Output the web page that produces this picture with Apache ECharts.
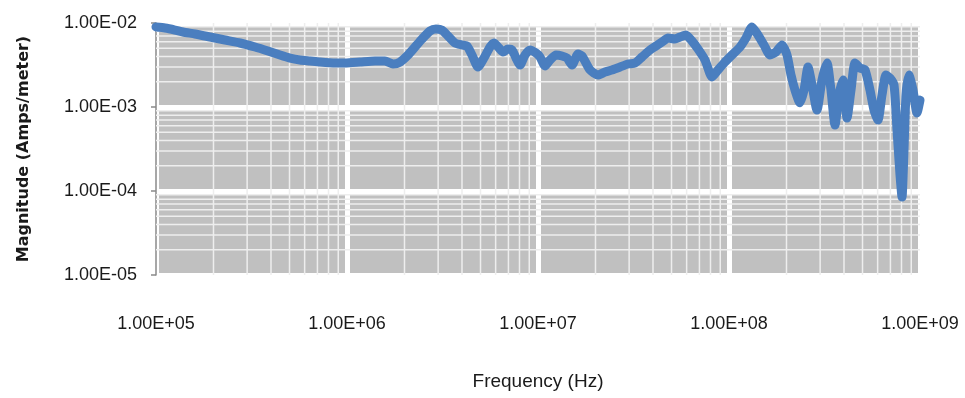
<!DOCTYPE html>
<html>
<head>
<meta charset="utf-8">
<script src="https://cdn.jsdelivr.net/npm/echarts@6/dist/echarts.min.js"></script>
<style>
html,body{margin:0;padding:0;background:#fff;}
#chart{width:965px;height:398px;}
</style>
</head>
<body>
<div id="chart"></div>
<script>
const xTickLabels = ['1.00E+05', '1.00E+06', '1.00E+07', '1.00E+08', '1.00E+09'];
const yTickLabels = ['1.00E-05', '1.00E-04', '1.00E-03', '1.00E-02'];

const freqHz = [
  1.000e5, 1.115e5, 1.257e5, 1.385e5, 1.600e5, 1.918e5, 2.297e5, 2.754e5, 3.299e5, 3.858e5,
  4.459e5, 5.030e5, 5.674e5, 6.401e5, 7.222e5, 8.654e5, 9.761e5, 1.170e6, 1.402e6, 1.581e6,
  1.741e6, 1.895e6, 2.086e6, 2.270e6, 2.470e6, 2.720e6, 2.924e6, 3.144e6, 3.380e6, 3.676e6,
  4.000e6, 4.249e6, 4.513e6, 4.851e6, 5.215e6, 5.607e6, 5.884e6, 6.249e6, 6.559e6, 6.966e6,
  7.310e6, 7.671e6, 8.050e6, 8.551e6, 9.082e6, 9.761e6, 1.024e7, 1.088e7, 1.156e7, 1.242e7,
  1.336e7, 1.419e7, 1.507e7, 1.620e7, 1.700e7, 1.872e7, 2.061e7, 2.243e7, 2.440e7, 2.687e7,
  2.959e7, 3.220e7, 3.504e7, 3.858e7, 4.148e7, 4.459e7, 4.793e7, 5.215e7, 5.540e7, 5.955e7,
  6.401e7, 6.882e7, 7.487e7, 8.147e7, 8.758e7, 9.530e7, 1.037e8, 1.142e8, 1.227e8, 1.319e8,
  1.418e8, 1.525e8, 1.639e8, 1.762e8, 1.895e8, 2.012e8, 2.112e8, 2.216e8, 2.353e8, 2.470e8,
  2.592e8, 2.720e8, 2.888e8, 3.069e8, 3.259e8, 3.420e8, 3.589e8, 3.766e8, 3.953e8, 4.148e8,
  4.353e8, 4.568e8, 4.851e8, 5.152e8, 5.472e8, 5.743e8, 6.026e8, 6.324e8, 6.637e8, 6.966e8,
  7.310e8, 7.579e8, 7.858e8, 8.050e8, 8.246e8, 8.447e8, 8.758e8, 9.192e8, 9.645e8, 1.000e9
];

const magnitude = [
  8.96e-3, 8.72e-3, 8.25e-3, 7.81e-3, 7.40e-3, 6.81e-3, 6.27e-3, 5.78e-3, 5.18e-3, 4.64e-3,
  4.16e-3, 3.83e-3, 3.63e-3, 3.53e-3, 3.43e-3, 3.34e-3, 3.34e-3, 3.43e-3, 3.53e-3, 3.53e-3,
  3.25e-3, 3.43e-3, 4.16e-3, 5.18e-3, 6.45e-3, 8.03e-3, 8.48e-3, 8.25e-3, 7.00e-3, 5.78e-3,
  5.47e-3, 5.32e-3, 4.16e-3, 2.99e-3, 3.83e-3, 5.18e-3, 5.78e-3, 5.04e-3, 4.52e-3, 4.90e-3,
  4.77e-3, 3.83e-3, 3.16e-3, 4.16e-3, 4.77e-3, 4.39e-3, 3.94e-3, 3.08e-3, 3.63e-3, 4.16e-3,
  4.05e-3, 3.83e-3, 3.16e-3, 4.28e-3, 4.05e-3, 2.76e-3, 2.40e-3, 2.61e-3, 2.76e-3, 2.99e-3,
  3.25e-3, 3.34e-3, 3.94e-3, 4.77e-3, 5.32e-3, 5.94e-3, 6.63e-3, 6.45e-3, 6.81e-3, 7.20e-3,
  6.10e-3, 4.90e-3, 3.63e-3, 2.28e-3, 2.76e-3, 3.43e-3, 4.16e-3, 5.18e-3, 6.63e-3, 8.96e-3,
  7.20e-3, 5.47e-3, 4.16e-3, 4.52e-3, 5.47e-3, 4.16e-3, 2.40e-3, 1.59e-3, 1.12e-3, 1.59e-3,
  2.99e-3, 1.83e-3, 9.21e-4, 2.10e-3, 3.34e-3, 1.59e-3, 6.10e-4, 1.39e-3, 2.10e-3, 7.40e-4,
  1.59e-3, 3.34e-3, 2.91e-3, 2.76e-3, 1.59e-3, 9.21e-4, 7.00e-4, 1.39e-3, 2.40e-3, 2.21e-3,
  1.83e-3, 5.32e-4, 1.55e-4, 8.48e-5, 3.08e-4, 1.39e-3, 2.40e-3, 1.59e-3, 8.48e-4, 1.21e-3
];

const seriesData = freqHz.map((f, i) => [f, magnitude[i]]);

// minor log grid positions (2..9 within each decade)
const minorX = [];
for (let k = 5; k < 9; k++) for (let d = 2; d <= 9; d++) minorX.push(d * Math.pow(10, k));
const minorY = [];
for (let k = -5; k < -2; k++) for (let d = 2; d <= 9; d++) minorY.push(d * Math.pow(10, k));

const X_MIN = 1e5, X_MAX = 1e9, Y_MIN = 1e-5, Y_MAX = 1e-2;
const gridData = minorX.map(v => ['x', v]).concat(minorY.map(v => ['y', v]));

const tickFont = "'Liberation Sans', Arial, sans-serif";

const chart = echarts.init(document.getElementById('chart'), null, { renderer: 'canvas' });
chart.setOption({
  animation: false,
  backgroundColor: '#ffffff',
  grid: {
    left: 156, right: 45, top: 23, bottom: 123,
    show: true, backgroundColor: '#c0c0c0', borderWidth: 0
  },
  xAxis: {
    type: 'log', logBase: 10, min: X_MIN, max: X_MAX,
    name: 'Frequency (Hz)', nameLocation: 'middle', nameGap: 97,
    nameTextStyle: { fontFamily: tickFont, fontSize: 19, color: '#1a1a1a', verticalAlign: 'top' },
    axisLine: { show: false },
    axisTick: { show: false },
    axisLabel: {
      margin: 40, fontFamily: tickFont, fontSize: 18, color: '#1a1a1a', verticalAlign: 'top',
      formatter: v => xTickLabels[Math.round(Math.log10(v)) - 5]
    },
    splitLine: { show: true, lineStyle: { color: '#ffffff', width: 5 } }
  },
  yAxis: {
    type: 'log', logBase: 10, min: Y_MIN, max: Y_MAX,
    name: 'Magnitude (Amps/meter)', nameLocation: 'middle', nameGap: 124,
    nameTextStyle: { fontFamily: "'DejaVu Sans', Verdana, sans-serif", fontWeight: 'bold', fontSize: 16, color: '#1a1a1a' },
    axisLine: { show: true, lineStyle: { color: '#8a8a8a', width: 1.5 } },
    axisTick: { show: true, length: 5, lineStyle: { color: '#8a8a8a', width: 1.5 } },
    axisLabel: {
      margin: 19, fontFamily: tickFont, fontSize: 18, color: '#1a1a1a',
      formatter: v => yTickLabels[Math.round(Math.log10(v)) + 5]
    },
    splitLine: { show: true, lineStyle: { color: '#ffffff', width: 5 } }
  },
  series: [
    {
      name: 'minorGrid', type: 'custom', z: 1, silent: true,
      data: gridData,
      encode: { x: -1, y: -1 },
      renderItem: function (params, api) {
        const dir = gridData[params.dataIndex][0];
        const v = gridData[params.dataIndex][1];
        let p1, p2;
        if (dir === 'x') { p1 = api.coord([v, Y_MIN]); p2 = api.coord([v, Y_MAX]); }
        else { p1 = api.coord([X_MIN, v]); p2 = api.coord([X_MAX, v]); }
        return {
          type: 'line',
          shape: { x1: p1[0], y1: p1[1], x2: p2[0], y2: p2[1] },
          style: { stroke: '#eeeeee', lineWidth: 1.5 }
        };
      }
    },
    {
      name: 'Magnitude', type: 'line', data: seriesData, z: 3,
      showSymbol: false, smooth: 0.2,
      lineStyle: { color: '#4a7ebf', width: 9, join: 'round', cap: 'round' }
    }
  ]
});
</script>
</body>
</html>
